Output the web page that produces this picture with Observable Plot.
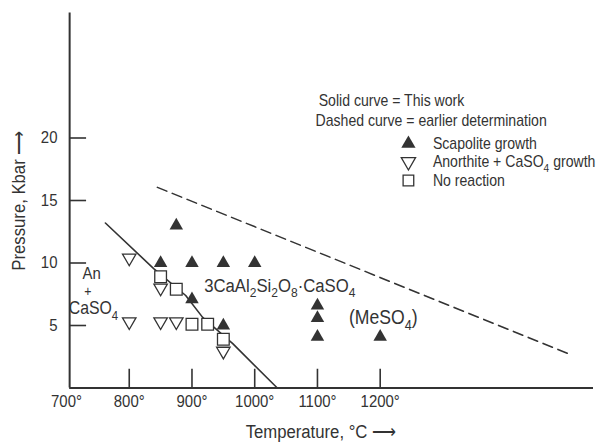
<!DOCTYPE html>
<html><head><meta charset="utf-8">
<script src="https://cdn.jsdelivr.net/npm/d3@7"></script>
<script src="https://cdn.jsdelivr.net/npm/@observablehq/plot@0.6"></script>
<style>
body{margin:0;background:#fff;}
#chart{width:606px;height:444px;}
</style></head><body><div id="chart"></div>
<script>
// ---- data ----
const scapT = [875, 850, 900, 950, 1000, 900, 950, 1100, 1100, 1100, 1200];
const scapP = [13, 10, 10, 10, 10, 7.1, 5, 6.6, 5.6, 4.1, 4.1];
const anorT = [800, 850, 800, 850, 875, 950];
const anorP = [10.4, 8, 5.3, 5.3, 5.3, 2.95];
const noreT = [850, 875, 900, 925, 950];
const noreP = [8.9, 7.9, 5.1, 5.1, 3.9];
const solidT = [762, 839, 890, 917, 965, 1036];
const solidP = [13.2, 9.55, 7.4, 5.65, 3.55, 0];
const dashT = [845, 1500];
const dashP = [16.05, 2.75];
const xTicks = [700, 800, 900, 1000, 1100, 1200];
const yTicks = [5, 10, 15, 20];
const xTitle = "Temperature, °C ⟶";
const yTitle = "Pressure, Kbar ⟶";
const legendHead = ["Solid curve = This work", "Dashed curve = earlier determination"];
const legendLabels = ["Scapolite growth", "Anorthite + CaSO_4 growth", "No reaction"];
const fieldLabels = ["An", "+", "CaSO_4"];
const phaseLabel = "3CaAl_2Si_2O_8·CaSO_4";
const meLabel = "(MeSO_4)";

// ---- build ----
const FONT = '"Liberation Sans","Arimo",sans-serif';
const ink = "#333";
const zip = (xs, ys) => xs.map((x, i) => ({x, y: ys[i]}));
const scap = zip(scapT, scapP), anor = zip(anorT, anorP), nore = zip(noreT, noreP);
const solid = zip(solidT, solidP), dash = zip(dashT, dashP);

const legX = 1245, legTextX = 1284, legY = [19.55, 18.1, 16.6];
const legRows = legendLabels.map((t, i) => ({t, i, y: legY[i]}));

const chart = Plot.plot({
  width: 606, height: 444,
  marginLeft: 66, marginRight: 13, marginTop: 12.5, marginBottom: 56.5,
  x: {domain: [700, 1540], axis: null},
  y: {domain: [0, 30], axis: null},
  style: {fontFamily: FONT, fontSize: "17px", color: ink, background: "#fff", overflow: "visible"},
  marks: [
    Plot.ruleX([705], {y1: 0, y2: 30, stroke: ink, strokeWidth: 2}),
    Plot.ruleY([0], {x1: 705, x2: 1540, stroke: ink, strokeWidth: 2}),
    Plot.ruleX(xTicks.slice(1), {x: d => d, y1: 0, y2: 1.5, stroke: ink, strokeWidth: 1.6}),
    Plot.ruleY(yTicks, {y: d => d, x1: 705, x2: 732, stroke: ink, strokeWidth: 1.6}),
    Plot.axisX(xTicks, {tickSize: 0, tickPadding: 7, tickFormat: d => d + "°", fontSize: 17, label: null}),
    Plot.axisY(yTicks, {anchor: "left", tickSize: 0, tickPadding: 9, fontSize: 17, label: null}),
    Plot.text([xTitle], {frameAnchor: "bottom", dy: 44, dx: -9, textAnchor: "middle", lineAnchor: "middle", text: d => d, fontSize: 19}),
    Plot.text([yTitle], {frameAnchor: "left", dx: -48, rotate: -90, textAnchor: "middle", lineAnchor: "middle", text: d => d, fontSize: 19}),
    Plot.line(solid, {x: "x", y: "y", stroke: ink, strokeWidth: 1.6}),
    Plot.line(dash, {x: "x", y: "y", stroke: ink, strokeWidth: 1.6, strokeDasharray: "10,6"}),
    Plot.dot(nore, {x: "x", y: "y", symbol: "square", r: 6.6, fill: "#fff", stroke: ink, strokeWidth: 1.3}),
    Plot.dot(anor, {x: "x", y: "y", symbol: "triangle", rotate: 180, r: 5, fill: "#fff", stroke: ink, strokeWidth: 1.3}),
    Plot.dot(scap, {x: "x", y: "y", symbol: "triangle", r: 5, fill: ink}),
    // field annotations
    Plot.text([fieldLabels[0]], {x: 740, y: 9.12, text: d => d, fontSize: 17}),
    Plot.text([fieldLabels[1]], {x: 734, y: 7.68, text: d => d, fontSize: 14}),
    Plot.text([fieldLabels[2]], {x: 743, y: 6.35, text: d => d, fontSize: 18}),
    Plot.text([phaseLabel], {x: 1040, y: 8.2, text: d => d, fontSize: 19}),
    Plot.text([meLabel], {x: 1205, y: 5.6, text: d => d, fontSize: 20}),
    // legend
    Plot.text(legendHead, {x: [1102, 1097], y: [23.0, 21.4], text: d => d, textAnchor: "start", fontSize: 16}),
    Plot.dot(legRows.filter(d => d.i === 0), {x: legX, y: "y", symbol: "triangle", r: 5.3, fill: ink}),
    Plot.dot(legRows.filter(d => d.i === 1), {x: legX, y: "y", symbol: "triangle", rotate: 180, r: 5.3, fill: "#fff", stroke: ink, strokeWidth: 1.3}),
    Plot.dot(legRows.filter(d => d.i === 2), {x: legX, y: "y", symbol: "square", r: 6, fill: "#fff", stroke: ink, strokeWidth: 1.3}),
    Plot.text(legRows, {x: legTextX, y: "y", text: "t", textAnchor: "start", fontSize: 16})
  ]
});

const SX = 0.88; // the original lettering is condensed
d3.select(chart).selectAll("text").each(function () {
  // subscripts: "_d" -> subscript digit
  const t = this.textContent;
  if (t.includes("_")) {
    const parts = t.split(/(_\d)/).filter(s => s.length);
    this.textContent = "";
    let wasSub = false;
    for (const p of parts) {
      const ts = document.createElementNS("http://www.w3.org/2000/svg", "tspan");
      if (p[0] === "_") {
        ts.textContent = p.slice(1);
        ts.setAttribute("font-size", "0.72em");
        ts.setAttribute("dy", wasSub ? "0" : "0.42em");
        wasSub = true;
      } else {
        ts.textContent = p;
        if (wasSub) ts.setAttribute("dy", "-0.3em");
        wasSub = false;
      }
      this.appendChild(ts);
    }
  }
  // horizontal condensation around the text's own anchor (x attribute, if any)
  const tr = this.getAttribute("transform") || "";
  const x = parseFloat(this.getAttribute("x"));
  const xs = Number.isFinite(x) ? x : 0;
  this.setAttribute("transform", `${tr} translate(${xs},0) scale(${SX},1) translate(${-xs},0)`);
});

document.getElementById("chart").appendChild(chart);
</script>
</body></html>
